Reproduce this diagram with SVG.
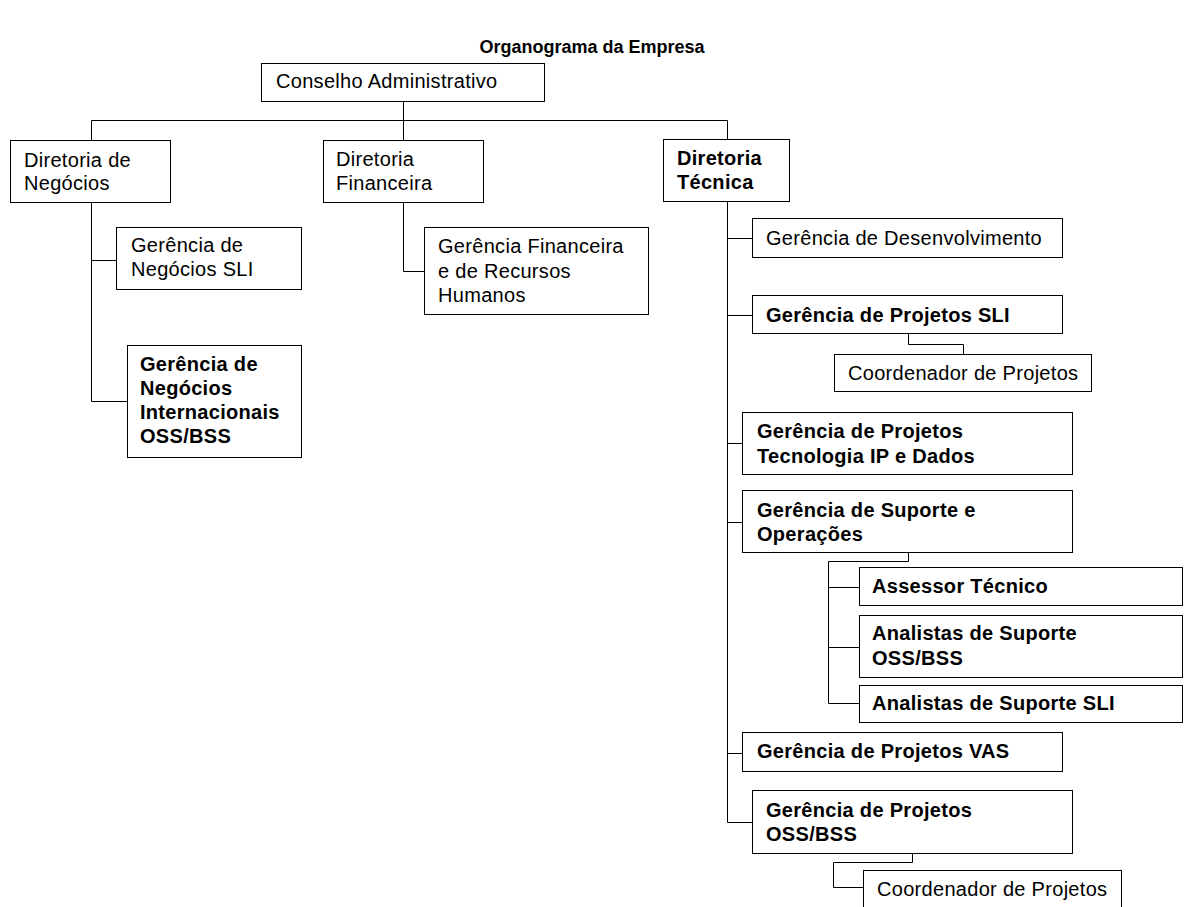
<svg xmlns="http://www.w3.org/2000/svg" width="1184" height="907" viewBox="0 0 1184 907">
<style>
  .box { fill: #fff; stroke: #000; stroke-width: 1; }
  .t { font-family: "Liberation Sans", Arial, sans-serif; font-size: 20px; fill: #000; letter-spacing: 0.3px; }
  .b { font-weight: bold; letter-spacing: 0.3px; }
  .ln { fill: none; stroke: #000; stroke-width: 1; }
  .title { font-family: "Liberation Sans", Arial, sans-serif; font-size: 18px; font-weight: bold; fill: #000; }
</style>
<rect width="1184" height="907" fill="#fff"/>
<text class="title" x="592" y="53" text-anchor="middle">Organograma da Empresa</text>

<g id="connectors">
  <path class="ln" d="M403.5,101 V120.5 M91.5,120.5 H727.5 M91.5,120.5 V140 M403.5,120.5 V140 M727.5,120.5 V139"/>
  <path class="ln" d="M91.5,202 V401.5 M91.5,260.5 H116 M91.5,401.5 H127"/>
  <path class="ln" d="M403.5,202 V271.5 H424"/>
  <path class="ln" d="M727.5,201 V822.5 M727.5,238.5 H752 M727.5,315.5 H752 M727.5,443.5 H742 M727.5,522.5 H742 M727.5,753.5 H742 M727.5,822.5 H752"/>
  <path class="ln" d="M908.5,333 V344.5 H963.5 V354"/>
  <path class="ln" d="M908.5,552 V561.5 H828.5 V703.5 M828.5,587.5 H859 M828.5,647.5 H859 M828.5,703.5 H859"/>
  <path class="ln" d="M912.5,853 V862.5 H833.5 V887.5 H863"/>
</g>

<g id="conselho">
  <rect class="box" x="261.5" y="63.5" width="283" height="38"/>
  <text class="t" x="276" y="88">Conselho Administrativo</text>
</g>
<g id="dir-negocios">
  <rect class="box" x="10.5" y="140.5" width="160" height="62"/>
  <text class="t" x="24" y="167">Diretoria de</text>
  <text class="t" x="24" y="190">Negócios</text>
</g>
<g id="dir-financeira">
  <rect class="box" x="323.5" y="140.5" width="160" height="62"/>
  <text class="t" x="336" y="166">Diretoria</text>
  <text class="t" x="336" y="190">Financeira</text>
</g>
<g id="dir-tecnica">
  <rect class="box" x="663.5" y="139.5" width="126" height="62"/>
  <text class="t b" x="677" y="165">Diretoria</text>
  <text class="t b" x="677" y="189">Técnica</text>
</g>
<g id="ger-negocios-sli">
  <rect class="box" x="116.5" y="227.5" width="185" height="62"/>
  <text class="t" x="131" y="252">Gerência de</text>
  <text class="t" x="131" y="276">Negócios SLI</text>
</g>
<g id="ger-negocios-int">
  <rect class="box" x="127.5" y="345.5" width="174" height="112"/>
  <text class="t b" x="140" y="371">Gerência de</text>
  <text class="t b" x="140" y="395">Negócios</text>
  <text class="t b" x="140" y="419">Internacionais</text>
  <text class="t b" x="140" y="443">OSS/BSS</text>
</g>
<g id="ger-financeira">
  <rect class="box" x="424.5" y="227.5" width="224" height="87"/>
  <text class="t" x="438" y="253">Gerência Financeira</text>
  <text class="t" x="438" y="278">e de Recursos</text>
  <text class="t" x="438" y="302">Humanos</text>
</g>
<g id="ger-desenvolvimento">
  <rect class="box" x="752.5" y="218.5" width="310" height="39"/>
  <text class="t" x="766" y="245">Gerência de Desenvolvimento</text>
</g>
<g id="ger-projetos-sli">
  <rect class="box" x="752.5" y="295.5" width="310" height="38"/>
  <text class="t b" x="766" y="322">Gerência de Projetos SLI</text>
</g>
<g id="coord-projetos-1">
  <rect class="box" x="834.5" y="354.5" width="257" height="37"/>
  <text class="t" x="848" y="380">Coordenador de Projetos</text>
</g>
<g id="ger-projetos-ip">
  <rect class="box" x="742.5" y="412.5" width="330" height="62"/>
  <text class="t b" x="757" y="438">Gerência de Projetos</text>
  <text class="t b" x="757" y="463">Tecnologia IP e Dados</text>
</g>
<g id="ger-suporte">
  <rect class="box" x="742.5" y="490.5" width="330" height="62"/>
  <text class="t b" x="757" y="517">Gerência de Suporte e</text>
  <text class="t b" x="757" y="541">Operações</text>
</g>
<g id="assessor">
  <rect class="box" x="859.5" y="567.5" width="323" height="38"/>
  <text class="t b" x="872" y="593">Assessor Técnico</text>
</g>
<g id="analistas-oss">
  <rect class="box" x="859.5" y="615.5" width="323" height="62"/>
  <text class="t b" x="872" y="640">Analistas de Suporte</text>
  <text class="t b" x="872" y="665">OSS/BSS</text>
</g>
<g id="analistas-sli">
  <rect class="box" x="859.5" y="685.5" width="323" height="37"/>
  <text class="t b" x="872" y="710">Analistas de Suporte SLI</text>
</g>
<g id="ger-projetos-vas">
  <rect class="box" x="742.5" y="732.5" width="320" height="39"/>
  <text class="t b" x="757" y="758">Gerência de Projetos VAS</text>
</g>
<g id="ger-projetos-oss">
  <rect class="box" x="752.5" y="790.5" width="320" height="63"/>
  <text class="t b" x="766" y="817">Gerência de Projetos</text>
  <text class="t b" x="766" y="841">OSS/BSS</text>
</g>
<g id="coord-projetos-2">
  <rect class="box" x="863.5" y="870.5" width="258" height="40"/>
  <text class="t" x="877" y="896">Coordenador de Projetos</text>
</g>
</svg>
